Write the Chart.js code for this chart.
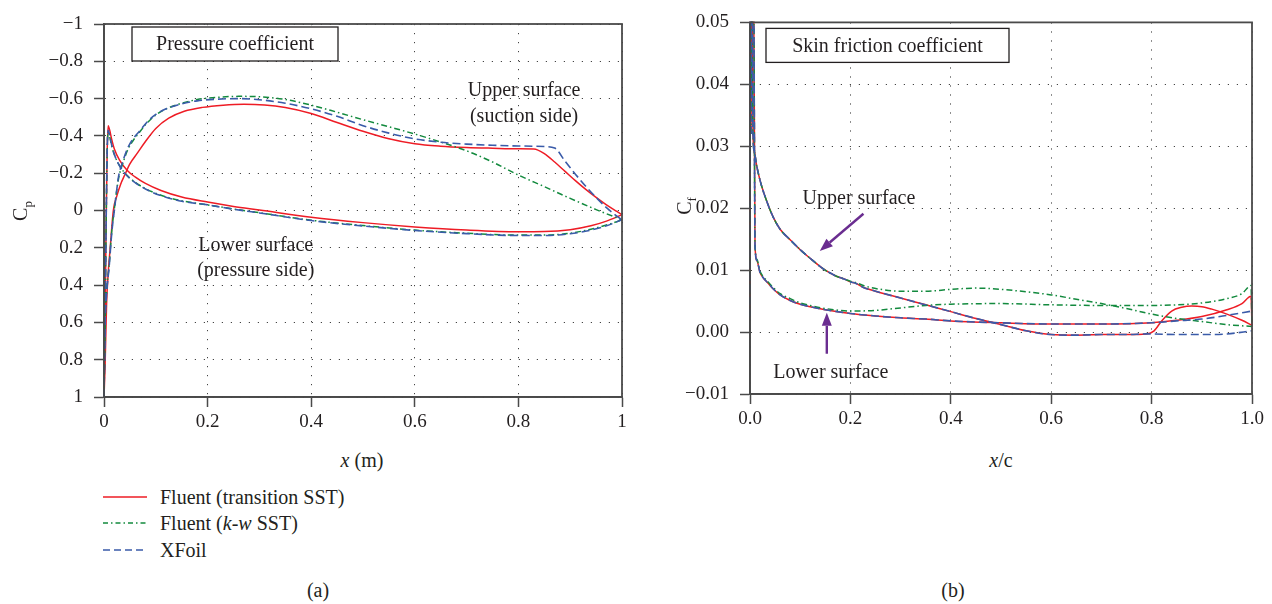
<!DOCTYPE html>
<html>
<head>
<meta charset="utf-8">
<script src="https://cdn.jsdelivr.net/npm/chart.js@4.4.1/dist/chart.umd.min.js"></script>
<style>
html,body{margin:0;padding:0;background:#fff;}
body{width:1272px;height:604px;position:relative;overflow:hidden;font-family:"Liberation Serif","Times New Roman",serif;color:#231f20;}
canvas{position:absolute;top:0;}
#cp{left:0;}
#cf{left:640px;}
.lab{position:absolute;font-size:20px;white-space:nowrap;line-height:24px;height:24px;text-align:center;}
.rot{transform:rotate(-90deg);width:60px;}
.sub{font-size:13px;position:relative;top:5px;}
.leg{position:absolute;left:103px;font-size:20px;line-height:24px;height:24px;white-space:nowrap;}
.leg svg{position:absolute;left:0;top:7px;}
.leg span{position:absolute;left:57px;top:0;}
</style>
</head>
<body>
<canvas id="cp" width="640" height="440" style="width:640px;height:440px"></canvas>
<canvas id="cf" width="632" height="440" style="width:632px;height:440px"></canvas>

<div class="lab" style="left:312px;top:448px;width:100px;"><i>x</i> (m)</div>
<div class="lab" style="left:951px;top:448px;width:100px;"><i>x</i>/c</div>
<div class="lab rot" style="left:-10px;top:199px;">C<span class="sub">p</span></div>
<div class="lab rot" style="left:654px;top:194px;">C<span class="sub">f</span></div>

<div class="leg" style="top:485px"><svg width="44" height="10"><line x1="0" y1="5" x2="44" y2="5" stroke="#ee1c25" stroke-width="1.5"/></svg><span>Fluent (transition SST)</span></div>
<div class="leg" style="top:511px"><svg width="44" height="10"><line x1="0" y1="5" x2="44" y2="5" stroke="#138a3e" stroke-width="1.5" stroke-dasharray="5 3 1.5 3"/></svg><span>Fluent (<i>k</i>-<i>w</i> SST)</span></div>
<div class="leg" style="top:538px"><svg width="44" height="10"><line x1="0" y1="5" x2="44" y2="5" stroke="#3a5ba9" stroke-width="1.6" stroke-dasharray="7 4"/></svg><span>XFoil</span></div>

<div class="lab" style="left:298px;top:578px;width:40px;">(a)</div>
<div class="lab" style="left:933px;top:578px;width:40px;">(b)</div>

<script>
// ---------- Pressure coefficient (a) ----------
const cpXTicks = [0, 0.2, 0.4, 0.6, 0.8, 1];
const cpXTickLabels = ['0', '0.2', '0.4', '0.6', '0.8', '1'];
const cpYTicks = [-1, -0.8, -0.6, -0.4, -0.2, 0, 0.2, 0.4, 0.6, 0.8, 1];
const cpYTickLabels = ['\u22121', '\u22120.8', '\u22120.6', '\u22120.4', '\u22120.2', '0', '0.2', '0.4', '0.6', '0.8', '1'];

const cpTransUpperX = [0, 0.002, 0.005, 0.008, 0.012, 0.018, 0.025, 0.032, 0.04, 0.05, 0.065, 0.08, 0.1, 0.125, 0.155, 0.19, 0.23, 0.27, 0.31, 0.35, 0.4, 0.45, 0.5, 0.55, 0.6, 0.65, 0.7, 0.75, 0.8, 0.83, 0.85, 0.87, 0.89, 0.91, 0.93, 0.95, 0.97, 0.99, 1.0];
const cpTransUpperY = [1, 0.84, 0.5, 0.34, 0.2, 0.0, -0.08, -0.14, -0.19, -0.25, -0.31, -0.37, -0.44, -0.495, -0.532, -0.553, -0.565, -0.57, -0.566, -0.552, -0.52, -0.472, -0.425, -0.385, -0.358, -0.345, -0.338, -0.334, -0.331, -0.33, -0.305, -0.26, -0.21, -0.16, -0.113, -0.07, -0.03, 0.005, 0.022];
const cpTransLowerX = [0, 0.002, 0.004, 0.006, 0.008, 0.011, 0.015, 0.02, 0.03, 0.045, 0.06, 0.08, 0.11, 0.15, 0.2, 0.25, 0.3, 0.4, 0.5, 0.6, 0.7, 0.8, 0.85, 0.9, 0.94, 0.97, 1.0];
const cpTransLowerY = [1, 0.6, 0.1, -0.3, -0.455, -0.43, -0.38, -0.33, -0.27, -0.215, -0.18, -0.145, -0.107, -0.072, -0.045, -0.022, -0.003, 0.036, 0.065, 0.088, 0.105, 0.114, 0.113, 0.103, 0.082, 0.057, 0.022];

const cpKwUpperX = [0, 0.002, 0.005, 0.01, 0.015, 0.02, 0.028, 0.036, 0.045, 0.055, 0.07, 0.085, 0.1, 0.12, 0.15, 0.18, 0.22, 0.26, 0.3, 0.35, 0.4, 0.45, 0.5, 0.55, 0.6, 0.65, 0.7, 0.75, 0.8, 0.85, 0.9, 0.95, 1.0];
const cpKwUpperY = [1, 0.62, 0.44, 0.29, 0.11, -0.01, -0.17, -0.25, -0.32, -0.37, -0.425, -0.475, -0.512, -0.545, -0.575, -0.595, -0.607, -0.612, -0.61, -0.595, -0.565, -0.527, -0.487, -0.449, -0.41, -0.367, -0.32, -0.26, -0.19, -0.128, -0.065, -0.005, 0.05];
const cpKwLowerX = [0, 0.002, 0.004, 0.006, 0.008, 0.011, 0.015, 0.02, 0.03, 0.045, 0.06, 0.08, 0.11, 0.15, 0.2, 0.25, 0.3, 0.4, 0.5, 0.6, 0.7, 0.8, 0.85, 0.9, 0.94, 0.97, 1.0];
const cpKwLowerY = [1, 0.6, 0.1, -0.3, -0.42, -0.395, -0.345, -0.3, -0.24, -0.187, -0.152, -0.117, -0.082, -0.052, -0.03, -0.008, 0.012, 0.052, 0.081, 0.105, 0.122, 0.132, 0.132, 0.122, 0.1, 0.078, 0.05];

const cpXfoilUpperX = [0, 0.002, 0.005, 0.01, 0.015, 0.02, 0.028, 0.036, 0.045, 0.055, 0.07, 0.085, 0.1, 0.12, 0.15, 0.18, 0.22, 0.26, 0.3, 0.35, 0.4, 0.45, 0.5, 0.55, 0.6, 0.65, 0.7, 0.75, 0.8, 0.85, 0.87, 0.89, 0.91, 0.93, 0.95, 0.97, 0.99, 1.0];
const cpXfoilUpperY = [1, 0.63, 0.45, 0.3, 0.12, 0.0, -0.18, -0.26, -0.33, -0.38, -0.43, -0.48, -0.515, -0.545, -0.572, -0.588, -0.597, -0.6, -0.594, -0.575, -0.545, -0.505, -0.455, -0.415, -0.384, -0.366, -0.356, -0.35, -0.346, -0.343, -0.335, -0.265, -0.195, -0.13, -0.07, -0.015, 0.03, 0.05];
const cpXfoilLowerX = [0, 0.002, 0.004, 0.006, 0.008, 0.011, 0.015, 0.02, 0.03, 0.045, 0.06, 0.08, 0.11, 0.15, 0.2, 0.25, 0.3, 0.4, 0.5, 0.6, 0.7, 0.8, 0.85, 0.9, 0.94, 0.97, 1.0];
const cpXfoilLowerY = [1, 0.6, 0.1, -0.3, -0.43, -0.4, -0.35, -0.3, -0.24, -0.185, -0.15, -0.115, -0.08, -0.05, -0.03, -0.007, 0.013, 0.054, 0.083, 0.107, 0.124, 0.134, 0.134, 0.125, 0.105, 0.082, 0.05];

// ---------- Skin friction coefficient (b) ----------
const cfXTicks = [0, 0.2, 0.4, 0.6, 0.8, 1];
const cfXTickLabels = ['0.0', '0.2', '0.4', '0.6', '0.8', '1.0'];
const cfYTicks = [-0.01, 0, 0.01, 0.02, 0.03, 0.04, 0.05];
const cfYTickLabels = ['\u22120.01', '0.00', '0.01', '0.02', '0.03', '0.04', '0.05'];

const cfTransUpperX = [0, 0.0005, 0.002, 0.004, 0.006, 0.009, 0.013, 0.02, 0.033, 0.046, 0.06, 0.08, 0.1, 0.12, 0.146, 0.17, 0.19, 0.2, 0.21, 0.226, 0.25, 0.3, 0.35, 0.4, 0.45, 0.5, 0.55, 0.6, 0.65, 0.7, 0.75, 0.79, 0.805, 0.82, 0.84, 0.86, 0.88, 0.9, 0.92, 0.95, 0.98, 1.0];
const cfTransUpperY = [0.0025, 0.06, 0.06, 0.06, 0.032, 0.029, 0.027, 0.0245, 0.0212, 0.0186, 0.0166, 0.0149, 0.0133, 0.0119, 0.0102, 0.0091, 0.0085, 0.0081, 0.0079, 0.0072, 0.0066, 0.0055, 0.0044, 0.0033, 0.0022, 0.0012, 0.0002, -0.0004, -0.0005, -0.0004, -0.0004, -0.0003, 0.0002, 0.0018, 0.0034, 0.004, 0.0042, 0.0041, 0.0037, 0.0029, 0.0019, 0.0011];
const cfTransLowerX = [0.002, 0.004, 0.007, 0.01, 0.014, 0.02, 0.027, 0.036, 0.046, 0.06, 0.08, 0.1, 0.125, 0.15, 0.2, 0.25, 0.3, 0.35, 0.4, 0.5, 0.6, 0.7, 0.8, 0.85, 0.9, 0.95, 0.98, 0.998, 1.0];
const cfTransLowerY = [0.032, 0.06, 0.06, 0.0139, 0.0115, 0.0096, 0.0087, 0.0079, 0.007, 0.006, 0.0051, 0.0045, 0.004, 0.0036, 0.003, 0.0026, 0.0023, 0.0021, 0.0018, 0.0015, 0.0013, 0.0013, 0.0015, 0.0019, 0.0025, 0.0036, 0.0046, 0.0058, 0.0011];

const cfKwUpperX = [0, 0.0005, 0.002, 0.004, 0.006, 0.009, 0.013, 0.02, 0.033, 0.046, 0.06, 0.08, 0.1, 0.12, 0.146, 0.17, 0.19, 0.2, 0.21, 0.23, 0.26, 0.3, 0.35, 0.4, 0.45, 0.5, 0.55, 0.6, 0.65, 0.7, 0.75, 0.8, 0.85, 0.9, 0.95, 1.0];
const cfKwUpperY = [0.0025, 0.06, 0.06, 0.06, 0.032, 0.029, 0.027, 0.0245, 0.0212, 0.0186, 0.0166, 0.0149, 0.0133, 0.0119, 0.0102, 0.0091, 0.0085, 0.0082, 0.008, 0.0074, 0.0069, 0.0066, 0.0066, 0.0069, 0.0071, 0.0069, 0.0065, 0.006, 0.0053, 0.0046, 0.0038, 0.0029, 0.0022, 0.0017, 0.0012, 0.0009];
const cfKwLowerX = [0.002, 0.004, 0.007, 0.01, 0.014, 0.02, 0.027, 0.036, 0.046, 0.06, 0.08, 0.1, 0.125, 0.15, 0.2, 0.25, 0.3, 0.35, 0.4, 0.5, 0.6, 0.7, 0.8, 0.85, 0.9, 0.95, 0.98, 0.998, 1.0];
const cfKwLowerY = [0.032, 0.06, 0.06, 0.014, 0.0117, 0.0098, 0.0089, 0.0081, 0.0072, 0.0062, 0.0054, 0.0047, 0.0042, 0.0038, 0.0034, 0.0035, 0.0039, 0.0043, 0.0045, 0.0046, 0.0044, 0.0043, 0.0043, 0.0044, 0.0047, 0.0054, 0.0062, 0.0075, 0.0009];

const cfXfoilUpperX = [0, 0.0005, 0.002, 0.004, 0.006, 0.009, 0.013, 0.02, 0.033, 0.046, 0.06, 0.08, 0.1, 0.12, 0.146, 0.17, 0.19, 0.2, 0.21, 0.226, 0.25, 0.3, 0.35, 0.4, 0.45, 0.5, 0.55, 0.6, 0.65, 0.7, 0.75, 0.79, 0.85, 0.9, 0.95, 1.0];
const cfXfoilUpperY = [0.0025, 0.06, 0.06, 0.06, 0.032, 0.029, 0.027, 0.0245, 0.0212, 0.0186, 0.0166, 0.0149, 0.0133, 0.0119, 0.0102, 0.0091, 0.0085, 0.0081, 0.0079, 0.0072, 0.0066, 0.0055, 0.0044, 0.0033, 0.0022, 0.0012, 0.0002, -0.0004, -0.0005, -0.0004, -0.0004, -0.0003, -0.0004, -0.0004, -0.0003, 0.0002];
const cfXfoilLowerX = [0.002, 0.004, 0.007, 0.01, 0.014, 0.02, 0.027, 0.036, 0.046, 0.06, 0.08, 0.1, 0.125, 0.15, 0.2, 0.25, 0.3, 0.35, 0.4, 0.5, 0.6, 0.7, 0.8, 0.85, 0.9, 0.95, 1.0];
const cfXfoilLowerY = [0.032, 0.06, 0.06, 0.0139, 0.0115, 0.0096, 0.0087, 0.0079, 0.007, 0.006, 0.0051, 0.0045, 0.004, 0.0036, 0.003, 0.0026, 0.0023, 0.0021, 0.0018, 0.0015, 0.0013, 0.0013, 0.0015, 0.0018, 0.0021, 0.0027, 0.0034];

// ---------- rendering ----------
const FONT = '"Liberation Serif", "Times New Roman", serif';
const TEXT = '#231f20';
Chart.defaults.font.family = FONT;

function pts(xs, ys) { return xs.map((x, i) => ({ x: x, y: ys[i] })); }

const STY = {
  trans: { borderColor: '#ee1c25', borderWidth: 1.5, borderDash: [], order: 3 },
  kw:    { borderColor: '#138a3e', borderWidth: 1.5, borderDash: [6, 3, 1.5, 3], order: 2 },
  xfoil: { borderColor: '#3a5ba9', borderWidth: 1.6, borderDash: [8, 4], order: 1 }
};

function ds(label, xs, ys, st) {
  return Object.assign({
    label: label, data: pts(xs, ys), showLine: true, fill: false,
    pointRadius: 0, cubicInterpolationMode: 'monotone', clip: 1
  }, st);
}

function axis(min, max, ticks, labels, o) {
  return {
    type: 'linear', min: min, max: max, reverse: !!o.reverse,
    afterBuildTicks: s => { s.ticks = ticks.map(v => ({ value: v })); },
    afterFit: s => { if (o.w) s.width = o.w; if (o.h) s.height = o.h; },
    ticks: {
      callback: (v, i) => labels[i], font: { family: FONT, size: 19 }, color: TEXT,
      padding: o.pad, autoSkip: false, maxRotation: 0, minRotation: 0
    },
    grid: { color: '#444', lineWidth: 1, drawTicks: true, tickLength: 10, tickWidth: 1.5, tickColor: '#4a4a4a', tickBorderDash: [] },
    border: { display: true, color: '#4a4a4a', width: 1.8, dash: [1.2, 7.8] }
  };
}

function arrow(ctx, x1, y1, x2, y2) {
  const a = Math.atan2(y2 - y1, x2 - x1), L = 13, W = 5;
  const bx = x2 - L * Math.cos(a), by = y2 - L * Math.sin(a);
  ctx.beginPath(); ctx.moveTo(x1, y1); ctx.lineTo(bx, by); ctx.stroke();
  ctx.beginPath(); ctx.moveTo(x2, y2);
  ctx.lineTo(bx + W * Math.sin(a), by - W * Math.cos(a));
  ctx.lineTo(bx - W * Math.sin(a), by + W * Math.cos(a));
  ctx.closePath(); ctx.fill();
}

function notesPlugin(cfg) {
  return {
    id: 'notes',
    afterDatasetsDraw(chart) {
      const ctx = chart.ctx, a = chart.chartArea, sx = chart.scales.x, sy = chart.scales.y;
      ctx.save();
      ctx.setLineDash([]);
      ctx.strokeStyle = '#4a4a4a'; ctx.lineWidth = 1.8;
      ctx.strokeRect(a.left, a.top, a.right - a.left, a.bottom - a.top);
      const b = cfg.box;
      ctx.fillStyle = '#fff';
      ctx.fillRect(a.left + b.dx, a.top + b.dy, b.w, b.h);
      ctx.strokeStyle = TEXT; ctx.lineWidth = 1.3;
      ctx.strokeRect(a.left + b.dx, a.top + b.dy, b.w, b.h);
      ctx.fillStyle = TEXT;
      ctx.font = '20px ' + FONT;
      ctx.textAlign = 'center'; ctx.textBaseline = 'middle';
      ctx.fillText(b.text, a.left + b.dx + b.w / 2, a.top + b.dy + b.h / 2 + 1);
      cfg.notes.forEach(n => ctx.fillText(n.text, sx.getPixelForValue(n.x), sy.getPixelForValue(n.y)));
      ctx.strokeStyle = '#6a2d90'; ctx.fillStyle = '#6a2d90'; ctx.lineWidth = 2.4;
      (cfg.arrows || []).forEach(r => arrow(ctx,
        sx.getPixelForValue(r.x1), sy.getPixelForValue(r.y1),
        sx.getPixelForValue(r.x2), sy.getPixelForValue(r.y2)));
      ctx.restore();
    }
  };
}

const common = {
  responsive: false, animation: false, events: [],
  plugins: { legend: { display: false }, tooltip: { enabled: false } }
};

new Chart(document.getElementById('cp'), {
  type: 'scatter',
  data: { datasets: [
    ds('Fluent (transition SST)', cpTransUpperX, cpTransUpperY, STY.trans),
    ds('Fluent (transition SST) lower', cpTransLowerX, cpTransLowerY, STY.trans),
    ds('Fluent (k-w SST)', cpKwUpperX, cpKwUpperY, STY.kw),
    ds('Fluent (k-w SST) lower', cpKwLowerX, cpKwLowerY, STY.kw),
    ds('XFoil', cpXfoilUpperX, cpXfoilUpperY, STY.xfoil),
    ds('XFoil lower', cpXfoilLowerX, cpXfoilLowerY, STY.xfoil)
  ] },
  options: Object.assign({}, common, {
    layout: { padding: { top: 24, right: 18, left: 0, bottom: 0 } },
    scales: {
      x: axis(0, 1, cpXTicks, cpXTickLabels, { h: 43, pad: 4 }),
      y: axis(-1, 1, cpYTicks, cpYTickLabels, { w: 104, pad: 11, reverse: true })
    }
  }),
  plugins: [notesPlugin({
    box: { dx: 28, dy: 3, w: 206, h: 34, text: 'Pressure coefficient' },
    notes: [
      { text: 'Upper surface', x: 0.811, y: -0.643 },
      { text: '(suction side)', x: 0.811, y: -0.504 },
      { text: 'Lower surface', x: 0.293, y: 0.188 },
      { text: '(pressure side)', x: 0.293, y: 0.322 }
    ]
  })]
});

new Chart(document.getElementById('cf'), {
  type: 'scatter',
  data: { datasets: [
    ds('Fluent (transition SST)', cfTransUpperX, cfTransUpperY, STY.trans),
    ds('Fluent (transition SST) lower', cfTransLowerX, cfTransLowerY, STY.trans),
    ds('Fluent (k-w SST)', cfKwUpperX, cfKwUpperY, STY.kw),
    ds('Fluent (k-w SST) lower', cfKwLowerX, cfKwLowerY, STY.kw),
    ds('XFoil', cfXfoilUpperX, cfXfoilUpperY, STY.xfoil),
    ds('XFoil lower', cfXfoilLowerX, cfXfoilLowerY, STY.xfoil)
  ] },
  options: Object.assign({}, common, {
    layout: { padding: { top: 15, right: 20, left: 0, bottom: 0 } },
    scales: {
      x: axis(0, 1, cfXTicks, cfXTickLabels, { h: 46, pad: 4 }),
      y: axis(-0.01, 0.05, cfYTicks, cfYTickLabels, { w: 110, pad: 11 })
    }
  }),
  plugins: [notesPlugin({
    box: { dx: 16, dy: 6, w: 243, h: 34, text: 'Skin friction coefficient' },
    notes: [
      { text: 'Upper surface', x: 0.217, y: 0.0216 },
      { text: 'Lower surface', x: 0.161, y: -0.0066 }
    ],
    arrows: [
      { x1: 0.226, y1: 0.0191, x2: 0.139, y2: 0.0131 },
      { x1: 0.153, y1: -0.0035, x2: 0.153, y2: 0.0031 }
    ]
  })]
});
</script>
</body>
</html>
